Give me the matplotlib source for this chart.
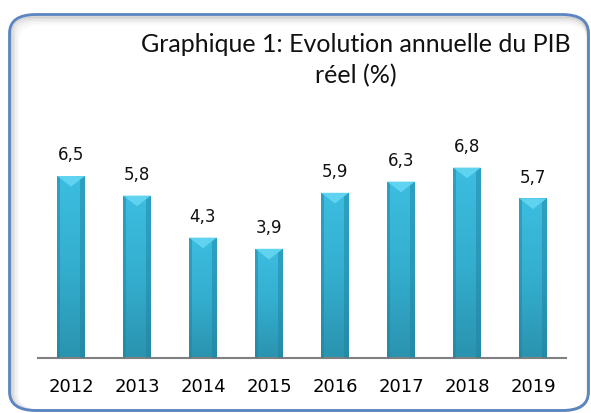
import matplotlib
matplotlib.use("Agg")
import matplotlib.pyplot as plt
from matplotlib.patches import FancyBboxPatch, Polygon
from matplotlib.colors import LinearSegmentedColormap
import numpy as np

years = ["2012", "2013", "2014", "2015", "2016", "2017", "2018", "2019"]
values = [6.5, 5.8, 4.3, 3.9, 5.9, 6.3, 6.8, 5.7]
labels = ["6,5", "5,8", "4,3", "3,9", "5,9", "6,3", "6,8", "5,7"]
title_lines = ["Graphique 1: Evolution annuelle du PIB", "réel (%)"]

W, H = 591, 414
fig = plt.figure(figsize=(W / 100, H / 100), dpi=100)
fig.patch.set_facecolor("white")

# inner shadow along top and left
for i, a in enumerate([0.22, 0.16, 0.11, 0.07, 0.04, 0.02]):
    sh = FancyBboxPatch(((11 + i * 1.5) / W, 2.5 / H), (577 - i * 1.5) / W, (394 - i * 1.5) / H,
                        boxstyle="round,pad=0,rounding_size=0.04",
                        transform=fig.transFigure, facecolor="none",
                        edgecolor=(0.35, 0.35, 0.35, a), linewidth=1.6, zorder=0)
    fig.patches.append(sh)
border = FancyBboxPatch((9.5 / W, 2.5 / H), 579 / W, 396 / H,
                        boxstyle="round,pad=0,rounding_size=0.045",
                        transform=fig.transFigure, facecolor="none",
                        edgecolor="#5B85C0", linewidth=2.0, zorder=1)
fig.patches.append(border)

ax = fig.add_axes([38 / W, (H - 359) / H, (566 - 38) / W, 224 / H])
ax.set_facecolor("none")
x = np.arange(len(years))
width = 0.42

cmap = LinearSegmentedColormap.from_list("barg", ["#2A93AF", "#34AECF", "#3CBDE0"])
bars = ax.bar(x, values, width=width, color="#36B3D6", edgecolor="none", zorder=2)
grad = np.linspace(0, 1, 256).reshape(-1, 1)
for b, xi, v in zip(bars, x, values):
    im = ax.imshow(grad, cmap=cmap, origin="lower", aspect="auto",
                   extent=[xi - width / 2, xi + width / 2, 0, v], zorder=2.5)
    im.set_clip_path(b)
# edge shading
ax.bar(x + width * 0.42, values, width=width * 0.16, color="#1E7F9C", alpha=0.45, edgecolor="none", zorder=3)
ax.bar(x - width * 0.45, values, width=width * 0.10, color="#1E7F9C", alpha=0.45, edgecolor="none", zorder=3)
# top bevel triangle
for xi, v in zip(x, values):
    tri = Polygon([[xi - width / 2, v], [xi + width / 2, v], [xi, v - 0.38]],
                  closed=True, facecolor="#5FD3EF", edgecolor="none", zorder=4)
    ax.add_patch(tri)

for xi, v, lab in zip(x, values, labels):
    ax.annotate(lab, (xi, v), xytext=(0, 9), textcoords="offset points",
                ha="center", va="bottom", fontsize=12, color="#111111",
                family="DejaVu Sans")

ax.set_xlim(-0.5, 7.5)
ax.set_ylim(0, 8)
ax.set_xticks(x)
ax.set_xticklabels(years, fontsize=13, family="DejaVu Sans")
ax.tick_params(axis="x", length=0, pad=14)
ax.set_yticks([])
for s in ["top", "right", "left"]:
    ax.spines[s].set_visible(False)
ax.spines["bottom"].set_color("#808080")
ax.spines["bottom"].set_linewidth(1.5)

fig.text(356 / W, 1 - 52 / H, title_lines[0], ha="center", va="baseline",
         fontsize=18, family="Lato", color="#111111")
fig.text(356 / W, 1 - 83 / H, title_lines[1], ha="center", va="baseline",
         fontsize=18, family="Lato", color="#111111")

fig.savefig("out.png", dpi=100, facecolor="white")
